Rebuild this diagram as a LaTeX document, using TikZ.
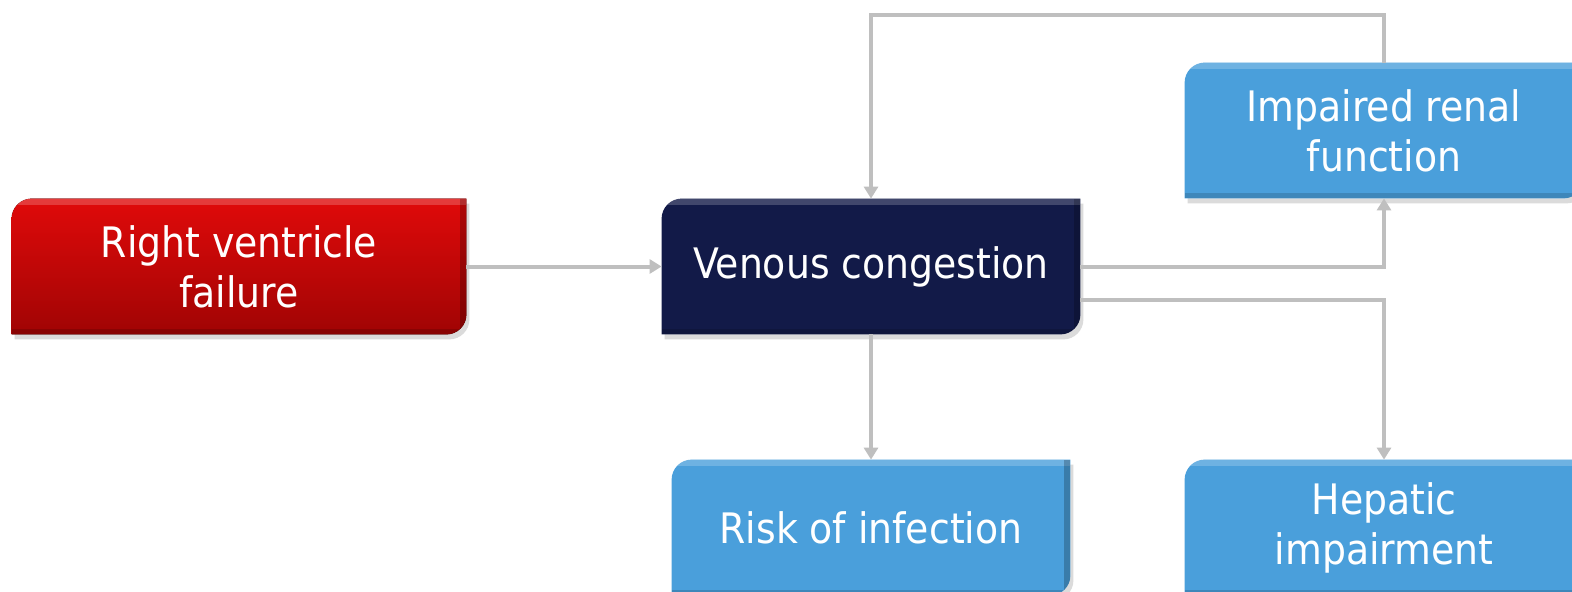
\documentclass[tikz,border=0pt]{standalone}
\usepackage{fontspec}
\setmainfont{DejaVu Sans Condensed}
\usetikzlibrary{arrows.meta,calc,backgrounds}
\definecolor{redtop}{HTML}{E00A0A}
\definecolor{redbot}{HTML}{A00404}
\definecolor{navy}{HTML}{121A48}
\definecolor{sky}{HTML}{4A9FDB}
\definecolor{conn}{HTML}{BFBFBF}

\tikzset{
 box/.style={draw=none, text=white, align=center, font=\fontsize{21}{25}\selectfont, inner sep=0pt, minimum height=67.5pt},
 link/.style={draw=conn, line width=2pt, -{Triangle[width=7pt,length=6pt]}},
 bevel/.style={path picture={
   \fill[white,opacity=0.2] (path picture bounding box.north west) rectangle ($(path picture bounding box.north east)+(0,6)$);
   \fill[black,opacity=0.22] ($(path picture bounding box.north east)+(-6,0)$) rectangle (path picture bounding box.south east);
   \fill[black,opacity=0.15] ($(path picture bounding box.south west)+(0,-5)$) rectangle (path picture bounding box.south east);
 }},
 shadowfill/.style={fill=black, opacity=0.14, transform canvas={shift={(1.5pt,-2.5pt)}}},
}

\newcommand\boxshape[3]{%
 \fill[#2] (#1.south west) -- ($(#1.north west)+(0,#3)$) .. controls ($(#1.north west)+(0,0.45*#3)$) and ($(#1.north west)+(0.45*#3,0)$) .. ($(#1.north west)+(#3,0)$) -- (#1.north east) -- ($(#1.south east)+(0,-#3)$) .. controls ($(#1.south east)+(0,-0.45*#3)$) and ($(#1.south east)+(-0.45*#3,0)$) .. ($(#1.south east)+(-#3,0)$) -- cycle;
}

\begin{document}
\begin{tikzpicture}[x=0.5pt,y=-0.5pt]
\useasboundingbox (0,0) rectangle (1572,591);
\clip (0,0) rectangle (1572,591);

\node[box, minimum width=227pt] (rvf) at (239,266.5) {Right ventricle\\failure};
\node[box, minimum width=209pt] (vc) at (871,266.5) {Venous congestion};
\node[box, minimum width=199pt] (irf) at (1384,130.5) {Impaired renal\\function};
\node[box, minimum width=199pt] (roi) at (871,527.5) {Risk of infection};
\node[box, minimum width=199pt] (hi) at (1384,527.5) {Hepatic\\impairment};

\begin{scope}[on background layer]
 \clip (0,0) rectangle (1572,591);
 \foreach \n in {rvf,vc,irf,roi,hi} {\boxshape{\n}{shadowfill}{20}}
 \boxshape{rvf}{top color=redtop, bottom color=redbot, bevel}{20}
 \boxshape{vc}{fill=navy, bevel}{20}
 \boxshape{irf}{fill=sky, bevel}{20}
 \boxshape{roi}{fill=sky, bevel}{20}
 \boxshape{hi}{fill=sky, bevel}{20}
\end{scope}

\draw[link] (rvf.east) -- (vc.west);
\draw[link] (vc.east) -| (irf.south);
\draw[link] ($(vc.east)+(0,33)$) -| (hi.north);
\draw[link] (vc.south) -- (roi.north);
\draw[link] (irf.north) -- ++(0,-48) -| (vc.north);
\end{tikzpicture}
\end{document}
